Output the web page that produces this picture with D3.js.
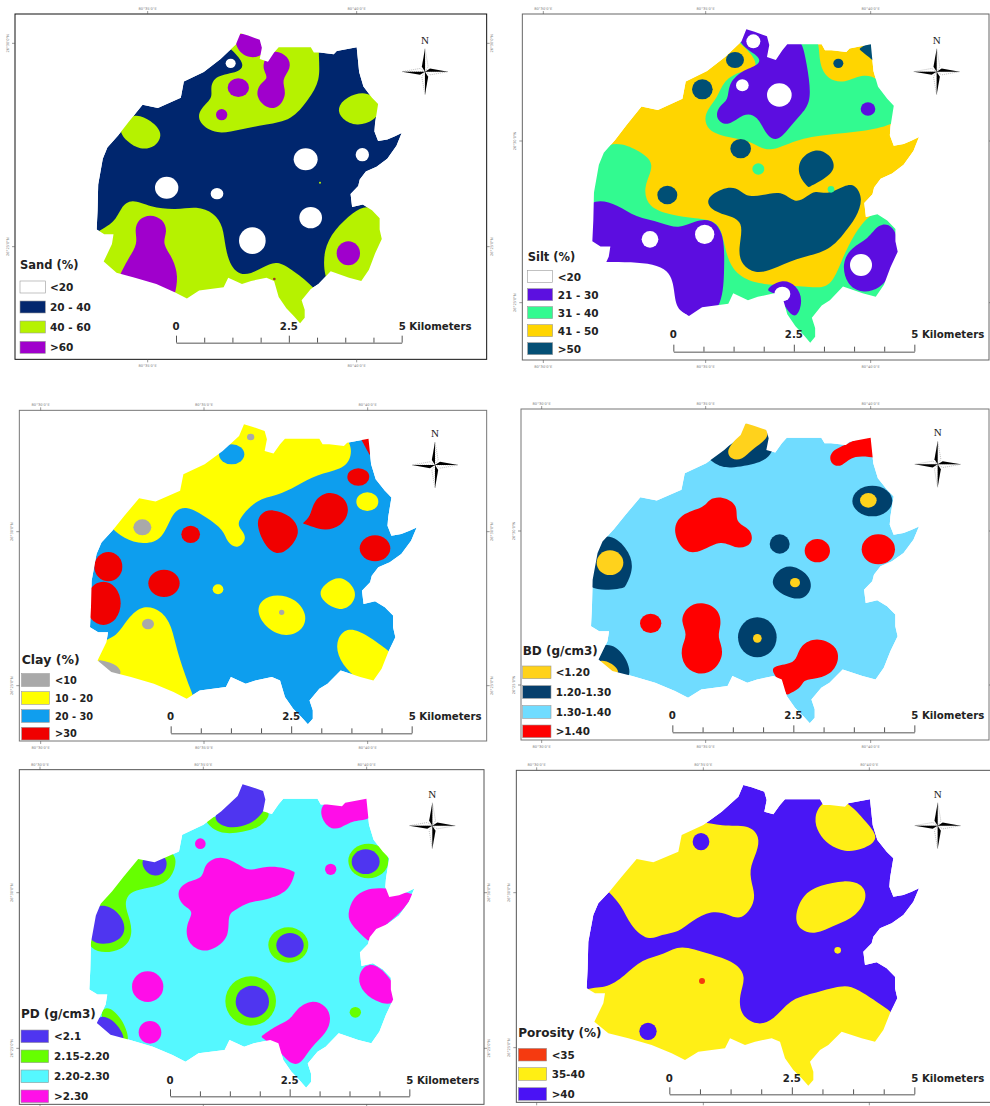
<!DOCTYPE html>
<html>
<head>
<meta charset="utf-8">
<script src="https://cdn.jsdelivr.net/npm/d3@7"></script>
<style>
html, body { margin: 0; padding: 0; background: #fff; overflow: hidden; }
text { font-family: "DejaVu Sans", sans-serif; }
</style>
</head>
<body>
<div id="main"></div>
<script>
// A zone is [class index, points] or [class index, [cx, cy, rx, ry]] for the round ones.
// A point given twice keeps a sharp tip after the smoothing.

// Study area boundary, same for all six maps (each map rescales it a little)
const outline = [[745,90],[770,97],[808,110],[815,135],[808,170],[835,178],[855,150],[870,133],[975,133],[985,150],[1005,150],[1050,155],[1060,145],[1125,133],[1133,210],[1147,255],[1175,290],[1195,310],[1185,370],[1183,395],[1195,425],[1225,420],[1250,410],[1272,400],[1255,440],[1225,480],[1190,505],[1155,520],[1135,545],[1130,565],[1105,590],[1110,630],[1145,622],[1175,640],[1200,665],[1200,700],[1207,730],[1185,775],[1165,825],[1140,860],[1100,850],[1040,830],[1000,870],[975,885],[945,920],[955,950],[955,975],[940,992],[920,970],[895,945],[870,910],[855,860],[830,850],[780,860],[750,870],[705,850],[690,880],[610,890],[570,915],[530,895],[470,870],[400,850],[340,835],[298,800],[325,745],[330,715],[300,715],[275,700],[278,640],[280,560],[295,480],[310,445],[345,408],[380,365],[425,312],[475,322],[550,290],[560,240],[625,210],[680,170],[730,125]];

const sandTitle = "Sand (%)";
const sandClasses = ["<20", "20 - 40", "40 - 60", ">60"];
const sandColors = ["#ffffff", "#03276e", "#b6f200", "#a000cc", "#a03020"];
const sandZones = [
  [2, [[690,145],[690,145],[735,190],[720,218],[645,225],[630,265],[640,295],[595,330],[595,370],[650,405],[720,388],[800,373],[875,362],[925,300],[962,240],[955,170],[960,120],[850,100],[760,75],[700,95]]],
  [3, [[705,90],[795,110],[800,165],[745,178],[705,145]]],
  [3, [715,263,32,28]],
  [3, [665,344,17,17]],
  [3, [[825,150],[865,168],[875,205],[842,240],[862,278],[838,325],[800,327],[766,290],[778,250],[808,235],[785,205],[798,165]]],
  [2, [[400,335],[455,362],[490,400],[468,442],[420,450],[380,425],[350,385]]],
  [2, [[1105,270],[1150,320],[1125,362],[1070,380],[1025,358],[1010,325],[1038,290]]],
  [2, [[395,595],[450,622],[530,630],[590,618],[643,638],[670,680],[675,740],[692,803],[730,832],[790,802],[830,780],[880,812],[945,862],[990,930],[960,1080],[300,1020],[200,760],[290,695],[345,668],[362,622]]],
  [2, [[1105,612],[1160,650],[1180,760],[1100,910],[1000,880],[972,830],[970,750],[1002,690],[1060,635]]],
  [3, [[450,642],[490,657],[503,695],[485,730],[520,775],[535,830],[525,880],[525,880],[440,850],[360,825],[360,825],[382,780],[415,730],[403,690],[415,657]]],
  [3, [1045,760,35,36]],
  [4, [823,837,4,4]],
  [2, [960,548,3,3]],
  [0, [917,478,36,33]], [0, [1087,464,20,20]], [0, [500,563,35,33]], [0, [651,581,19,17]],
  [0, [932,653,34,32]], [0, [757,722,40,40]], [0, [692,190,15,14]]
];

const siltTitle = "Silt (%)";
const siltClasses = ["<20", "21 - 30", "31 - 40", "41 - 50", ">50"];
const siltColors = ["#ffffff", "#5c10e0", "#33fa90", "#ffd500", "#044f75"];
const siltZones = [
  [2, [[730,125],[730,125],[775,165],[790,208],[740,212],[685,240],[668,295],[625,340],[635,393],[700,413],[770,422],[820,462],[900,418],[1000,403],[1100,395],[1195,375],[1230,340],[1200,298],[1150,232],[1100,222],[1050,250],[998,240],[970,190],[975,100],[900,90],[800,90]]],
  [1, [[745,75],[835,85],[880,115],[920,115],[935,190],[952,300],[920,342],[885,380],[850,425],[815,410],[788,345],[745,338],[700,382],[660,358],[670,318],[702,300],[698,255],[738,212],[795,195],[795,170],[748,145],[725,110]]],
  [0, [775,124,21,21]], [0, [742,256,19,18]], [0, [853,285,37,35]],
  [4, [720,180,27,24]], [4, [622,268,31,30]], [4, [737,446,31,29]],
  [1, [1119,327,22,20]], [4, [1030,190,15,14]],
  [4, [[1092,147],[1092,147],[1140,115],[1145,190],[1145,190]]],
  [2, [[345,415],[430,450],[485,490],[442,560],[460,625],[530,645],[600,655],[675,662],[688,740],[710,812],[770,850],[850,855],[950,862],[1008,864],[1040,780],[1078,700],[1125,640],[1170,635],[1270,700],[1270,950],[950,1090],[500,1010],[200,800],[250,500]]],
  [1, [[295,592],[370,615],[420,652],[500,667],[550,688],[600,662],[650,655],[688,700],[688,800],[684,920],[620,970],[578,985],[530,950],[500,800],[300,810],[260,715],[260,650]]],
  [0, [[190,790],[330,785],[510,788],[538,850],[540,925],[578,945],[578,945],[560,1010],[300,1010]]],
  [0, [465,718,25,25]], [0, [629,703,29,29]],
  [4, [[632,595],[680,565],[725,560],[750,590],[800,588],[860,570],[900,612],[935,590],[960,570],[1000,585],[1050,555],[1080,552],[1105,595],[1085,652],[1045,703],[1000,755],[900,775],[830,810],[780,822],[740,795],[728,750],[750,662],[690,645],[645,628]]],
  [4, [[960,443],[1005,462],[1025,505],[988,538],[940,562],[940,562],[910,530],[910,478]]],
  [4, [517,585,30,28]], [2, [790,507,18,17]], [2, [1008,568,10,10]],
  [1, [[1150,670],[1195,672],[1218,745],[1195,815],[1155,868],[1100,880],[1055,855],[1040,790],[1068,742],[1120,718]]],
  [0, [1098,795,33,33]],
  [1, [[805,872],[860,835],[905,855],[925,900],[905,960],[875,930],[860,900],[840,878]]],
  [0, [862,882,24,22]]
];

const clayTitle = "Clay (%)";
const clayClasses = ["<10", "10 - 20", "20 - 30", ">30"];
const clayColors = ["#a9a9a9", "#ffff00", "#109eee", "#f00000"];
const clayZones = [
  [1, [[730,60],[880,70],[1050,110],[1058,190],[1025,224],[950,238],[890,273],[830,303],[770,312],[718,370],[712,395],[745,425],[715,465],[680,442],[672,405],[620,368],[560,330],[516,350],[490,435],[430,450],[370,430],[335,398],[335,398],[280,370],[400,250],[520,190],[600,130],[680,70]]],
  [2, [695,178,38,30]], [0, [752,126,11,10]], [0, [427,397,27,24]], [3, [572,418,28,26]],
  [1, [[430,627],[485,647],[515,690],[533,780],[580,905],[580,905],[555,950],[400,900],[250,810],[305,735],[350,727],[382,670]]],
  [0, [444,687,18,16]],
  [0, [[295,795],[295,795],[350,805],[375,845],[300,850]]],
  [3, [325,515,42,44]], [3, [310,625,52,65]], [3, [492,565,47,41]], [1, [654,583,16,15]],
  [1, [[1045,695],[1100,718],[1175,775],[1175,775],[1170,850],[1110,880],[1048,835],[1010,780],[1010,728]]],
  [1, [[830,596],[890,612],[922,660],[910,705],[860,728],[800,703],[768,650],[785,612]]],
  [0, [845,652,8,8]],
  [1, [[1025,540],[1072,585],[1060,628],[1020,650],[970,622],[955,590],[982,560]]],
  [3, [[815,340],[875,362],[900,405],[885,443],[840,485],[796,458],[768,390],[780,355]]],
  [3, [[985,286],[1035,306],[1050,350],[1024,394],[975,408],[940,396],[908,385],[908,385],[932,365],[940,316]]],
  [1, [1102,320,33,28]], [3, [1075,246,33,26]],
  [3, [[1082,130],[1082,130],[1115,115],[1115,115],[1110,182],[1110,182]]],
  [3, [1125,460,46,39]], [2, [878,567,3,3]]
];

const bdTitle = "BD (g/cm3)";
const bdClasses = ["<1.20", "1.20-1.30", "1.30-1.40", ">1.40"];
const bdColors = ["#ffd21a", "#063f6c", "#70dcff", "#ff0000"];
const bdZones = [
  [1, [[640,190],[640,190],[740,125],[850,95],[835,178],[795,205],[700,222],[665,210]]],
  [0, [[745,70],[825,100],[815,135],[772,162],[742,195],[708,195],[692,165],[728,130]]],
  [3, [[1000,170],[1060,147],[1075,135],[1150,115],[1150,190],[1150,190],[1075,178],[1042,216],[1008,212]]],
  [1, [1132,318,60,46]], [0, [1120,316,25,22]],
  [3, [[682,303],[732,330],[718,385],[770,400],[775,450],[725,465],[680,432],[620,470],[570,478],[530,410],[555,355],[630,338],[640,312]]],
  [1, [854,447,30,29]], [3, [967,467,38,35]], [3, [1150,463,50,45]],
  [1, [[325,400],[400,458],[418,520],[390,578],[385,580],[270,592],[255,500]]],
  [0, [345,503,40,37]],
  [1, [[885,507],[935,532],[956,575],[925,618],[870,605],[823,570],[846,526]]],
  [0, [900,563,15,14]],
  [3, [467,685,32,29]],
  [3, [[620,618],[672,642],[680,690],[665,725],[690,770],[662,828],[610,842],[565,815],[555,760],[580,718],[555,680],[573,636]]],
  [1, [787,727,58,60]], [0, [787,730,13,13]],
  [3, [[965,725],[1022,750],[1035,790],[1010,840],[950,853],[925,855],[918,880],[875,900],[875,900],[855,860],[818,815],[880,808],[905,795],[915,750]]],
  [1, [[330,735],[390,772],[418,860],[340,840],[280,790]]],
  [0, [[300,790],[355,802],[382,842],[320,835]]]
];

const pdTitle = "PD (g/cm3)";
const pdClasses = ["<2.1", "2.15-2.20", "2.20-2.30", ">2.30"];
const pdColors = ["#4f35f0", "#66ff00", "#55f8ff", "#ff10e8"];
const pdZones = [
  [1, [[605,190],[640,178],[680,205],[750,195],[790,162],[815,175],[785,215],[730,232],[655,240]]],
  [0, [[720,70],[815,105],[797,168],[752,210],[680,224],[628,188],[688,130]]],
  [3, [[970,135],[1040,135],[1120,115],[1120,200],[1060,193],[1022,222],[985,222],[958,180]]],
  [3, [601,266,16,16]], [3, [992,343,17,17]], [1, [1105,318,60,52]], [0, [1097,320,42,37]],
  [3, [[660,298],[720,330],[745,350],[800,332],[855,338],[885,352],[885,352],[868,410],[800,435],[745,440],[708,465],[682,478],[690,545],[645,582],[605,592],[562,565],[556,510],[585,468],[545,452],[528,410],[560,378],[612,370],[610,328]]],
  [1, [[420,290],[530,280],[528,345],[495,390],[430,400],[388,412],[375,440],[380,470],[402,530],[375,590],[255,600],[255,470],[305,425],[355,365]]],
  [0, [[425,300],[505,295],[500,354],[460,368],[426,340]]],
  [0, [[300,442],[355,467],[382,520],[355,566],[260,572],[260,480]]],
  [1, [865,570,60,53]], [0, [870,571,41,37]], [1, [752,738,76,74]], [0, [757,740,50,48]],
  [3, [443,695,47,46]], [3, [450,832,34,34]],
  [3, [[1095,403],[1150,396],[1240,418],[1240,418],[1210,468],[1150,515],[1105,558],[1105,558],[1055,512],[1040,480],[1060,425]]],
  [3, [[1105,618],[1155,648],[1190,700],[1185,755],[1125,740],[1080,703],[1073,658]]],
  [1, [1066,772,17,16]],
  [3, [[935,733],[980,752],[995,790],[980,835],[933,875],[905,925],[875,932],[838,888],[783,845],[783,845],[828,812],[872,795],[890,760]]],
  [1, [[315,745],[368,788],[395,870],[350,858],[295,790]]],
  [0, [[300,775],[352,802],[382,862],[340,850],[275,812]]]
];

const porosityTitle = "Porosity (%)";
const porosityClasses = ["<35", "35-40", ">40"];
const porosityColors = ["#f53a10", "#ffef14", "#4a12f5"];
const porosityZones = [
  [1, [[610,195],[680,215],[762,208],[795,245],[787,290],[760,345],[775,400],[782,442],[740,498],[700,478],[650,465],[590,498],[550,533],[500,537],[460,560],[405,512],[380,450],[335,405],[335,405],[420,280],[540,220]]],
  [2, [618,260,25,26]],
  [1, [[980,135],[1050,130],[1105,192],[1160,252],[1100,285],[1050,292],[1000,270],[970,235],[955,190]]],
  [1, [[1050,375],[1100,385],[1120,425],[1085,485],[1020,510],[960,540],[915,525],[897,490],[920,420],[975,390]]],
  [1, [[555,567],[640,597],[722,620],[755,665],[732,720],[735,780],[785,812],[835,798],[885,732],[950,717],[1040,690],[1082,695],[1190,772],[1190,772],[1270,960],[950,1110],[400,1010],[190,780],[265,692],[330,703],[390,662],[440,612],[510,598]]],
  [1, [1028,586,10,10]], [0, [621,678,9,9]], [2, [459,829,26,26]]
];

// Background class of every map
const baseClasses = [1, 3, 2, 2, 2, 2];

// Where everything sits, one row per map. Crop origin in page px, rest in crop units.
const layout = [
  { ox: 0, oy: 0, frame: [45,42,1460,1078], frameColor: "#111", ext: [290,1205,100,970], bar: [528,1205,1028,990], north: [1275,215], legend: { x: 60, titleY: 808, titleSize: 11.5, labelX: 150, labelSize: 10.5, w: 76, h: 36, tops: [843,903,963,1024] }, gx: [443,1070], gy: [130,740] },
  { ox: 495, oy: 0, frame: [82,42,1482,1080], frameColor: "#666", ext: [292,1272,88,1028], bar: [535,1258,1055,1015], north: [1325,215], legend: { x: 98, titleY: 782, titleSize: 11.5, labelX: 188, labelSize: 10.5, w: 75, h: 36, tops: [812,866,920,974,1028] }, gx: [145,632,1127], gy: [423,908] },
  { ox: 0, oy: 395, frame: [58,46,1460,1038], frameColor: "#777", ext: [270,1250,88,988], bar: [512,1235,1015,976], north: [1305,210], legend: { x: 65, titleY: 806, titleSize: 12.5, labelX: 165, labelSize: 9.8, w: 83, h: 38, tops: [836,890,944,997] }, gx: [122,612,1103], gy: [410,872] },
  { ox: 495, oy: 395, frame: [78,42,1482,1035], frameColor: "#777", ext: [288,1272,85,985], bar: [532,1258,1012,973], north: [1328,208], legend: { x: 83, titleY: 780, titleSize: 12, labelX: 182, labelSize: 10.4, w: 85, h: 38, tops: [813,872,932,990] }, gx: [140,632,1127], gy: [408,870] },
  { ox: 0, oy: 755, frame: [58,44,1452,1048], frameColor: "#555", ext: [268,1243,88,998], bar: [510,1228,1024,986], north: [1297,212], legend: { x: 63, titleY: 790, titleSize: 12, labelX: 162, labelSize: 10.4, w: 83, h: 38, tops: [825,885,945,1005] }, gx: [120,610,1100], gy: [413,880] },
  { ox: 495, oy: 755, frame: [64,46,1490,1042], frameColor: "#555", ext: [275,1272,90,992], bar: [523,1258,1018,980], north: [1328,212], legend: { x: 70, titleY: 845, titleSize: 12, labelX: 170, labelSize: 10.4, w: 85, h: 38, tops: [880,938,998] }, gx: [125,625,1123], gy: [413,878] }
];

const titles = [sandTitle, siltTitle, clayTitle, bdTitle, pdTitle, porosityTitle];
const classes = [sandClasses, siltClasses, clayClasses, bdClasses, pdClasses, porosityClasses];
const colors = [sandColors, siltColors, clayColors, bdColors, pdColors, porosityColors];
const zones = [sandZones, siltZones, clayZones, bdZones, pdZones, porosityZones];

// Scale bar ticks in km
const barTicks = [0, 0.625, 1.25, 1.875, 2.5, 3.125, 3.75, 4.375, 5];
const coordLabels = ["80°30'0\"E", "80°35'0\"E", "80°40'0\"E"];
const coordLabelsY = ["26°30'0\"N", "26°25'0\"N"];

const svg = d3.select("#main").append("svg")
    .attr("width", 990)
    .attr("height", 1106)
    .style("display", "block");

const defs = svg.append("defs");
defs.append("filter").attr("id", "soft")
    .append("feGaussianBlur").attr("stdDeviation", 0.45);

// Compass star, black half and white half on each arm
function drawNorth(g, cx, cy) {
    const len = 23, wid = 3.2;
    [[0,-1],[1,0],[0,1],[-1,0]].forEach((d) => {
        const px = -d[1], py = d[0];
        g.append("polygon")
            .attr("points", [[cx,cy],[cx+d[0]*len,cy+d[1]*len],[cx+px*wid+d[0]*5,cy+py*wid+d[1]*5]].join(" "))
            .attr("fill", "#fff").attr("stroke", "#555").attr("stroke-width", 0.4).attr("stroke-dasharray", "1,1");
        g.append("polygon")
            .attr("points", [[cx,cy],[cx+d[0]*len,cy+d[1]*len],[cx-px*wid+d[0]*5,cy-py*wid+d[1]*5]].join(" "))
            .attr("fill", "#000");
    });
    g.append("text")
        .attr("x", cx).attr("y", cy - 28)
        .attr("text-anchor", "middle")
        .style("font-family", '"Liberation Serif", serif')
        .style("font-size", "11px")
        .attr("fill", "#222")
        .text("N");
}

layout.forEach((lay, i) => {
    const x = d3.scaleLinear().domain([0, 1485]).range([lay.ox, lay.ox + 495]);
    const y = d3.scaleLinear().domain([0, 1485]).range([lay.oy, lay.oy + 495]);
    const len = d3.scaleLinear().domain([0, 1485]).range([0, 495]);
    const palette = colors[i];
    const g = svg.append("g").attr("class", "panel");

    // Map frame
    const f = lay.frame;
    g.append("rect")
        .attr("x", x(f[0])).attr("y", y(f[1]))
        .attr("width", len(f[2] - f[0])).attr("height", len(f[3] - f[1]))
        .attr("fill", "#fff").attr("stroke", lay.frameColor).attr("stroke-width", 1);

    // Graticule ticks and their tiny labels
    lay.gx.forEach((v, k) => {
        [[f[1], -1], [f[3], 1]].forEach((s) => {
            g.append("line").attr("x1", x(v)).attr("x2", x(v))
                .attr("y1", y(s[0])).attr("y2", y(s[0]) + s[1] * 3)
                .attr("stroke", "#555").attr("stroke-width", 0.6);
            // no room for the label under the bottom row
            if (y(s[0]) + 8 < 1103) {
                g.append("text").attr("x", x(v)).attr("y", y(s[0]) + (s[1] < 0 ? -4 : 8))
                    .attr("text-anchor", "middle").attr("fill", "#777").style("font-size", "3.6px")
                    .text(coordLabels[k + 3 - lay.gx.length]);
            }
        });
    });
    lay.gy.forEach((v, k) => {
        [[f[0], -1], [f[2], 1]].forEach((s) => {
            g.append("line").attr("y1", y(v)).attr("y2", y(v))
                .attr("x1", x(s[0])).attr("x2", x(s[0]) + s[1] * 3)
                .attr("stroke", "#555").attr("stroke-width", 0.6);
            if (x(s[0]) + s[1] * 6 < 988) {
                g.append("text")
                    .attr("transform", `translate(${x(s[0]) + s[1] * 6},${y(v)}) rotate(-90)`)
                    .attr("text-anchor", "middle").attr("fill", "#777").style("font-size", "3.6px")
                    .text(coordLabelsY[k]);
            }
        });
    });

    // Boundary of the study area, fitted to this map
    const outX = d3.scaleLinear().domain([275, 1272]).range([lay.ext[0], lay.ext[1]]);
    const outY = d3.scaleLinear().domain([90, 992]).range([lay.ext[2], lay.ext[3]]);
    const boundary = d3.line()
        .x((d) => x(outX(d[0])))
        .y((d) => y(outY(d[1])))
        .curve(d3.curveLinearClosed);
    defs.append("clipPath").attr("id", "area" + i)
        .append("path").attr("d", boundary(outline));

    const map = g.append("g").attr("clip-path", `url(#area${i})`).attr("filter", "url(#soft)");
    map.append("path").attr("d", boundary(outline)).attr("fill", palette[baseClasses[i]]);

    const blob = d3.line()
        .x((d) => x(d[0]))
        .y((d) => y(d[1]))
        .curve(d3.curveBasisClosed);

    zones[i].forEach((z) => {
        const shape = z[1];
        if (typeof shape[0] === "number") {
            map.append("ellipse")
                .attr("cx", x(shape[0])).attr("cy", y(shape[1]))
                .attr("rx", len(shape[2])).attr("ry", len(shape[3]))
                .attr("fill", palette[z[0]]);
        } else {
            map.append("path").attr("d", blob(shape)).attr("fill", palette[z[0]]);
        }
    });

    // Legend
    const leg = lay.legend;
    g.append("text")
        .attr("x", x(leg.x)).attr("y", y(leg.titleY))
        .attr("fill", "#222").style("font-size", leg.titleSize + "px").style("font-weight", "bold")
        .text(titles[i]);
    classes[i].forEach((label, k) => {
        g.append("rect")
            .attr("x", x(leg.x)).attr("y", y(leg.tops[k]))
            .attr("width", len(leg.w)).attr("height", len(leg.h))
            .attr("fill", palette[k]).attr("stroke", "#999").attr("stroke-width", 0.6);
        g.append("text")
            .attr("x", x(leg.labelX)).attr("y", y(leg.tops[k] + leg.h / 2) + leg.labelSize * 0.37)
            .attr("fill", "#222").style("font-size", leg.labelSize + "px").style("font-weight", "bold")
            .text(label);
    });

    // Scale bar
    const km = d3.scaleLinear().domain([0, 5]).range([x(lay.bar[0]), x(lay.bar[1])]);
    const axis = g.append("g")
        .attr("transform", `translate(0,${y(lay.bar[2])})`)
        .call(d3.axisTop(km).tickValues(barTicks).tickFormat("").tickSize(5).tickSizeOuter(0));
    axis.select(".domain").attr("stroke", "#555");
    axis.selectAll(".tick line").attr("stroke", "#555")
        .attr("y2", (d) => (d === 0 || d === 2.5 || d === 5) ? -7 : -5);
    const labelY = y(lay.bar[3]);
    [[0, "0", "middle", 0], [2.5, "2.5", "middle", 0], [5, "5 Kilometers", "start", -3]].forEach((t) => {
        g.append("text")
            .attr("x", km(t[0]) + t[3]).attr("y", labelY)
            .attr("text-anchor", t[2])
            .attr("fill", "#222").style("font-size", "10.2px").style("font-weight", "bold")
            .text(t[1]);
    });

    drawNorth(g.append("g"), x(lay.north[0]), y(lay.north[1]));
});
</script>
</body>
</html>
